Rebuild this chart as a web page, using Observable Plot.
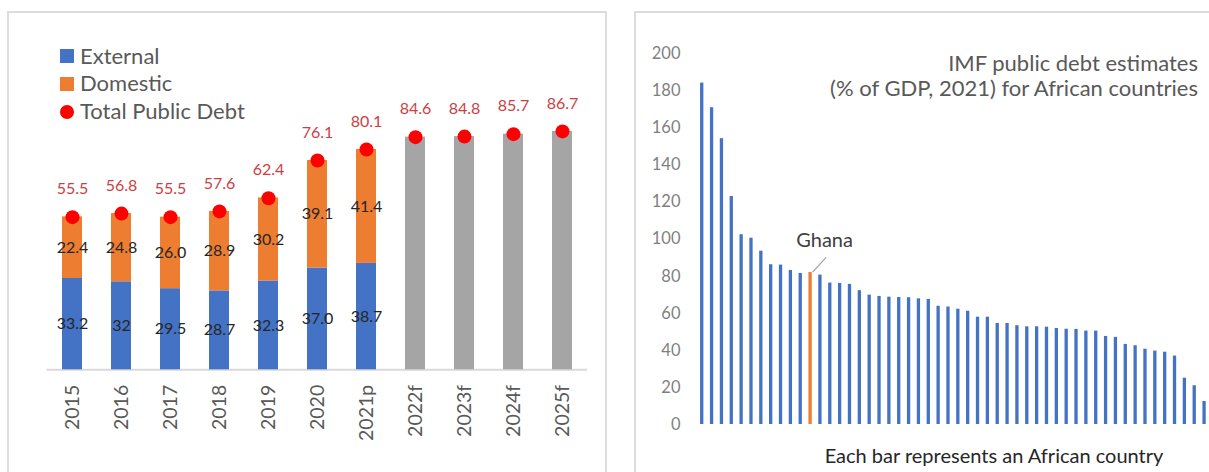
<!DOCTYPE html>
<html><head><meta charset="utf-8">
<script src="https://cdn.jsdelivr.net/npm/d3@7"></script>
<script src="https://cdn.jsdelivr.net/npm/@observablehq/plot@0.6"></script>
<style>
html,body{margin:0;padding:0;background:#fff;overflow:hidden}
#wrap{position:relative;width:1209px;height:472px;overflow:hidden;font-family:Lato,sans-serif}
.abs{position:absolute}
.box{position:absolute;border:2px solid #dcdcdc;box-sizing:border-box}
.leg{position:absolute;font-size:22px;line-height:22px;color:#595959;white-space:nowrap}
</style></head><body>
<div id="wrap">
  <div class="box" style="left:7px;top:11px;width:600px;height:480px"></div>
  <div class="box" style="left:634px;top:11px;width:700px;height:480px"></div>
  <div id="left" class="abs" style="left:0;top:0"></div>
  <div id="right" class="abs" style="left:610px;top:0"></div>
  <div id="legend"></div>
  <div id="title" class="abs" style="right:11px;top:50px;font-size:22px;line-height:25px;color:#595959;text-align:right;white-space:nowrap"></div>
  <div id="caption" class="abs" style="left:794px;width:400px;top:445px;font-size:20px;line-height:20px;color:#262626;text-align:center;white-space:nowrap"></div>
</div>
<script>
// ---- Left chart data ----
const years = ["2015","2016","2017","2018","2019","2020","2021p","2022f","2023f","2024f","2025f"];
const external = [33.2, 32, 29.5, 28.7, 32.3, 37.0, 38.7];
const domestic = [22.4, 24.8, 26.0, 28.9, 30.2, 39.1, 41.4];
const externalLabels = ["33.2","32","29.5","28.7","32.3","37.0","38.7"];
const domesticLabels = ["22.4","24.8","26.0","28.9","30.2","39.1","41.4"];
const totalDebt = [55.5, 56.8, 55.5, 57.6, 62.4, 76.1, 80.1, 84.6, 84.8, 85.7, 86.7];
const totalLabels = ["55.5","56.8","55.5","57.6","62.4","76.1","80.1","84.6","84.8","85.7","86.7"];
const seriesNames = ["External", "Domestic", "Total Public Debt"];
const seriesColors = ["#4472c4", "#ed7d31", "#ff0000"];
const forecastColor = "#a5a5a5";

// ---- Right chart data ----
const africaDebt = [184.2, 170.9, 154.2, 123.0, 102.4, 100.5, 93.5, 86.2, 86.0, 83.1, 81.5, 82.0,
  80.6, 76.3, 76.1, 75.6, 72.2, 69.8, 69.1, 68.7, 68.5, 68.4, 67.8, 67.5, 63.8, 63.4,
  62.2, 61.1, 57.9, 57.9, 54.5, 54.5, 53.3, 52.7, 52.7, 52.5, 51.8, 51.4, 51.3, 50.4,
  50.4, 47.5, 47.0, 43.2, 42.5, 40.6, 39.6, 39.0, 36.9, 25.0, 20.9, 12.4];
const ghanaIndex = 11;
const highlightName = "Ghana";
const rightTicks = [0, 20, 40, 60, 80, 100, 120, 140, 160, 180, 200];
const titleLines = ["IMF public debt estimates", "(% of GDP, 2021) for African countries"];
const captionText = "Each bar represents an African country";

// ---- Build left rows ----
const stackRows = [];
external.forEach((v, i) => stackRows.push({year: years[i], part: seriesNames[0], value: v, mid: v / 2, label: externalLabels[i]}));
domestic.forEach((v, i) => stackRows.push({year: years[i], part: seriesNames[1], value: v, mid: external[i] + v / 2, label: domesticLabels[i]}));
const totalRows = years.map((y, i) => ({year: y, total: totalDebt[i], label: totalLabels[i]}));
const forecastRows = totalRows.slice(external.length);

const left = Plot.plot({
  width: 610, height: 472,
  marginLeft: 46.7, marginRight: 23, marginTop: 94.3, marginBottom: 102.7,
  x: {domain: years, paddingInner: 0.594, paddingOuter: 0.297, tickRotate: -90, tickSize: 0, tickPadding: 15, label: null},
  y: {domain: [0, 100], axis: null},
  color: {domain: seriesNames.slice(0, 2), range: seriesColors.slice(0, 2)},
  style: {fontFamily: "Lato, sans-serif", fontSize: "19.5px", color: "#595959", background: "transparent", overflow: "visible"},
  marks: [
    Plot.ruleY([0], {stroke: "#d9d9d9", strokeWidth: 2}),
    Plot.barY(stackRows, {x: "year", y: "value", fill: "part"}),
    Plot.barY(forecastRows, {x: "year", y: "total", fill: forecastColor}),
    Plot.text(stackRows, {x: "year", y: "mid", text: "label", fill: "#262626", fontSize: 16}),
    Plot.dot(totalRows, {x: "year", y: "total", r: 7, fill: seriesColors[2], stroke: "none"}),
    Plot.text(totalRows, {x: "year", y: "total", text: "label", dy: -28, fill: "#cc3e44", fontSize: 16})
  ]
});
document.getElementById("left").appendChild(left);

// Legend
const legend = document.getElementById("legend");
const legendRows = [56.3, 84, 112];
seriesNames.forEach((name, i) => {
  const sw = document.createElement("div");
  sw.className = "abs";
  sw.style.left = "60px"; sw.style.width = "14px"; sw.style.height = "14px";
  sw.style.top = (legendRows[i] - 7) + "px";
  sw.style.background = seriesColors[i];
  if (i === 2) { sw.style.borderRadius = "50%"; }
  legend.appendChild(sw);
  const t = document.createElement("div");
  t.className = "leg";
  t.style.left = "80px";
  t.style.top = (legendRows[i] - 11.6) + "px";
  t.textContent = name;
  legend.appendChild(t);
});

// ---- Right chart ----
const africaRows = africaDebt.map((v, i) => ({i, v, color: i === ghanaIndex ? seriesColors[1] : seriesColors[0]}));
const right = Plot.plot({
  width: 599, height: 472,
  marginLeft: 86.8, marginRight: 0, marginTop: 53.3, marginBottom: 48,
  x: {type: "band", domain: africaRows.map(d => d.i), paddingInner: 0.665, paddingOuter: 0.3325, axis: null},
  y: {domain: [0, 200], ticks: rightTicks, tickSize: 0, tickPadding: 16.8, label: null},
  color: {type: "identity"},
  style: {fontFamily: "Lato, sans-serif", fontSize: "16.5px", color: "#7f7f7f", background: "transparent", overflow: "visible"},
  marks: [
    Plot.barY(africaRows, {x: "i", y: "v", fill: "color"}),
    Plot.text([africaRows[ghanaIndex]], {x: "i", y: "v", text: () => highlightName, dx: 14, dy: -32, fill: "#404040", fontSize: 20})
  ]
});
document.getElementById("right").appendChild(right);
try {
  const sx = right.scale("x"), sy = right.scale("y");
  const cx = sx.apply(ghanaIndex) + (sx.bandwidth || 0) / 2;
  const cy = sy.apply(africaDebt[ghanaIndex]);
  d3.select(right).append("line")
    .attr("x1", cx + 2.7).attr("y1", cy)
    .attr("x2", cx + 16).attr("y2", cy - 14.7)
    .attr("stroke", "#a6a6a6").attr("stroke-width", 1.2);
} catch (e) {}

document.getElementById("title").innerHTML = titleLines.join("<br>");
document.getElementById("caption").textContent = captionText;
</script>
</body></html>
